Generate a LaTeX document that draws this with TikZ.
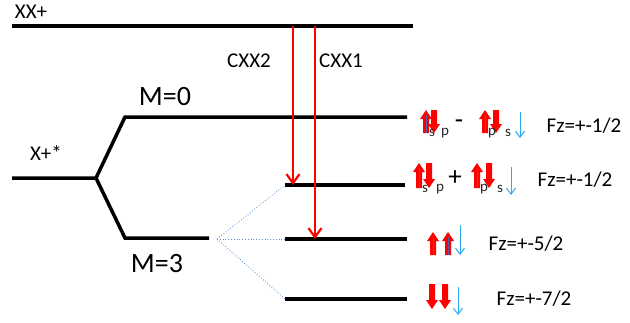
\documentclass[tikz,border=0pt]{standalone}
\usepackage{fontspec}
\setmainfont{Carlito}
\usetikzlibrary{arrows.meta}
\definecolor{trred}{RGB}{255,0,0}
\definecolor{dotblue}{RGB}{91,143,208}
\definecolor{spinblue}{RGB}{40,170,235}
\tikzset{
  level/.style={line width=3.5pt, line cap=butt},
  branch/.style={line width=3.5pt, line join=miter},
  trans/.style={trred, line width=2.2pt, -{Straight Barb[length=9pt,width=13pt,line width=2.2pt]}},
  split/.style={dotblue, line width=0.8pt, dotted},
  spin/.style={spinblue, line width=1pt, -{Straight Barb[length=6pt,width=9pt,line width=1pt]}},
  lbl/.style={inner sep=0pt, font=\fontsize{21}{24}\selectfont},
  big/.style={inner sep=0pt, font=\fontsize{28}{32}\selectfont},
  sign/.style={inner sep=0pt, font=\fontsize{27}{30}\selectfont},
  sub/.style={inner sep=0pt, font=\fontsize{15}{17}\selectfont, text=black!85},
}
% block arrows: #1 = x, #2 = top y, #3 = bottom y
\newcommand\blkup[3]{%
  \fill[trred] (#1-3,#3) -- (#1-3,#2+9) -- (#1-6,#2+9) -- (#1,#2) -- (#1+6,#2+9) -- (#1+3,#2+9) -- (#1+3,#3) -- cycle;
  \draw[gray!70!blue, line width=0.7pt] (#1,#3) -- (#1,#2+5);}
\newcommand\blkdown[3]{%
  \fill[trred] (#1-3,#2) -- (#1-3,#3-9) -- (#1-6,#3-9) -- (#1,#3) -- (#1+6,#3-9) -- (#1+3,#3-9) -- (#1+3,#2) -- cycle;}
\begin{document}
\begin{tikzpicture}[x=1pt,y=-1pt]
\useasboundingbox (0,0) rectangle (630,322);
% level coordinates
\coordinate (xxL) at (12,26);
\coordinate (xxR) at (413,26);
\coordinate (t2) at (293,26);
\coordinate (t1) at (315,26);
\coordinate (xL) at (12,178);
\coordinate (xR) at (96,178);
\coordinate (m0L) at (125,117);
\coordinate (m0R) at (407,117);
\coordinate (m3L) at (125,238);
\coordinate (m3R) at (209,238);
\coordinate (sp) at (217,239);
\coordinate (aL) at (285,185);
\coordinate (aR) at (405,185);
\coordinate (bL) at (285,239);
\coordinate (bR) at (407,239);
\coordinate (cL) at (285,299);
\coordinate (cR) at (407,299);
\coordinate (a2) at (293,185);
\coordinate (b1) at (315,239);
% levels
\draw[level] (xxL) -- (xxR);
\draw[branch] (xL) -- (xR) -- (m0L) -- (m0R);
\draw[branch] (xR) -- (m3L) -- (m3R);
\draw[level] (aL) -- (aR);
\draw[level] (bL) -- (bR);
\draw[level] (cL) -- (cR);
% splitting
\draw[split] (sp) -- (aL);
\draw[split] (sp) -- (bL);
\draw[split] (sp) -- (cL);
% transitions
\draw[trans] (t2) -- (a2);
\draw[trans] (t1) -- (b1);
% labels
\node[lbl] (lxx) at (31,12) {XX+};
\node[lbl] (lc2) at (249,61) {CXX2};
\node[lbl] (lc1) at (341,61) {CXX1};
\node[big] (lm0) at (165,97) {M=0};
\node[lbl] (lx) at (46,153) {X+*};
\node[big] (lm3) at (157,264) {M=3};
\node[lbl] (f1) at (584,126) {Fz=+-1/2};
\node[lbl] (f2) at (575,180) {Fz=+-1/2};
\node[lbl] (f3) at (526,244) {Fz=+-5/2};
\node[lbl] (f4) at (534,299) {Fz=+-7/2};
% row 1
\blkup{426}{110}{133}
\blkdown{434}{110}{133}
\node[sub] (s1a) at (432,133) {s};
\node[sub] (p1a) at (445,133) {p};
\node[sign] (m1) at (459,124) {-};
\blkup{485}{110}{133}
\blkdown{496}{110}{133}
\node[sub] (p1b) at (492,133) {p};
\node[sub] (s1b) at (508,133) {s};
\coordinate (u1a) at (520,112); \coordinate (u1b) at (520,138);
\draw[spin] (u1a) -- (u1b);
% row 2
\blkup{419}{163}{188}
\blkdown{429}{163}{188}
\node[sub] (s2a) at (425,189) {s};
\node[sub] (p2a) at (440,189) {p};
\node[sign] (pl2) at (455,178) {+};
\blkup{477}{163}{188}
\blkdown{489}{163}{188}
\node[sub] (p2b) at (484,189) {p};
\node[sub] (s2b) at (500,189) {s};
\coordinate (u2a) at (511,167); \coordinate (u2b) at (511,195);
\draw[spin] (u2a) -- (u2b);
% row 3
\blkup{433}{232}{255}
\blkup{448}{232}{255}
\coordinate (u3a) at (460,225); \coordinate (u3b) at (460,255);
\draw[spin] (u3a) -- (u3b);
% row 4
\blkdown{432}{284}{309}
\blkdown{445}{284}{309}
\coordinate (u4a) at (458,287); \coordinate (u4b) at (458,315);
\draw[spin] (u4a) -- (u4b);
\end{tikzpicture}
\end{document}
